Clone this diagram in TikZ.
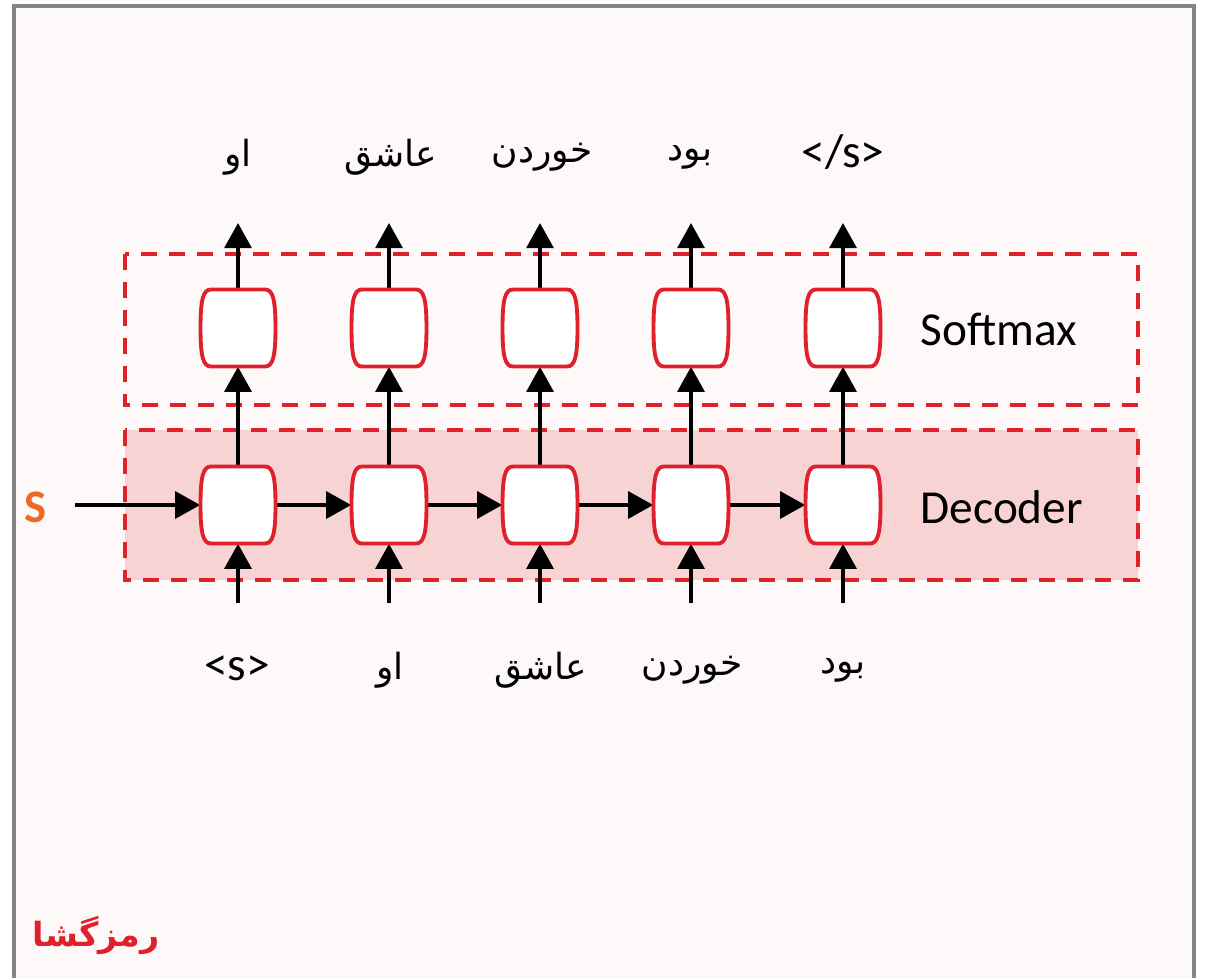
\documentclass[tikz,border=0pt]{standalone}
\usepackage{fontspec}
\setmainfont{Carlito}
\newfontfamily\arabicfont[Script=Arabic]{DejaVu Sans}
\TeXXeTstate=1
\usetikzlibrary{arrows.meta}
\definecolor{bgpink}{HTML}{FDF9F8}
\definecolor{boxpink}{HTML}{F8D3D4}
\definecolor{dred}{HTML}{E0202B}
\definecolor{sorange}{HTML}{EE6A24}
\definecolor{bordergray}{HTML}{858585}
\tikzset{
  cellnode/.style={rectangle, minimum width=56.25pt, minimum height=57.75pt, inner sep=0pt},
  cellline/.style={draw=dred, line width=2.9pt, fill=white},
  dbox/.style={draw=dred, line width=3pt, dash pattern=on 12pt off 9pt},
  arr/.style={line width=3pt, -{Triangle[length=18.75pt, width=20pt]}},
  lat/.style={font=\fontsize{35.5}{40}\selectfont},
  per/.style={font=\arabicfont\fontsize{27}{32}\selectfont},
}
\newcommand{\barrelcell}[1]{%
  \draw[cellline, shift={(#1.center)}] (-27,-38.5) -- (27,-38.5)
    .. controls (35,-38.5) and (37.5,-28) .. (37.5,0)
    .. controls (37.5,28) and (35,38.5) .. (27,38.5) -- (-27,38.5)
    .. controls (-35,38.5) and (-37.5,28) .. (-37.5,0)
    .. controls (-37.5,-28) and (-35,-38.5) .. (-27,-38.5) -- cycle;}
\begin{document}
\begin{tikzpicture}[x=0.75pt, y=-0.75pt]
\useasboundingbox (0,0) rectangle (1205,977);
\fill[white] (0,0) rectangle (1205,977);
\draw[bordergray, line width=3pt, fill=bgpink] (14,6) rectangle (1194,995);
% boxes
\draw[dbox] (125,254) rectangle (1138,405);
\draw[dbox, fill=boxpink] (125,430) rectangle (1138,580);
\node[lat, anchor=west] (softlbl) at (916,329) {Softmax};
\node[lat, anchor=west] (declbl) at (916,507) {Decoder};
% cells
\foreach \i/\x in {1/238, 2/389, 3/540, 4/691, 5/843} {
  \node[cellnode] (c\i) at (\x,328) {};
  \node[cellnode] (d\i) at (\x,505) {};
  \coordinate (t\i) at (\x,223);
  \coordinate (b\i) at (\x,603);
}
% labels
\node[per] (o1) at (238,157) {\beginR او\endR};
\node[per] (o2) at (391,157) {\beginR عاشق\endR};
\node[per] (o3) at (542,157) {\beginR خوردن\endR};
\node[per] (o4) at (690,157) {\beginR بود\endR};
\node[lat] (o5) at (843,152) {</s>};
\node[lat] (i1) at (237,668) {<s>};
\node[per] (i2) at (390,670) {\beginR او\endR};
\node[per] (i3) at (541,670) {\beginR عاشق\endR};
\node[per] (i4) at (692,670) {\beginR خوردن\endR};
\node[per] (i5) at (843,670) {\beginR بود\endR};
\node[lat, text=sorange, font=\fontsize{35}{40}\selectfont\bfseries] (s) at (36,507) {S};
\coordinate (sstart) at (75,505);
\node[text=dred, font=\arabicfont\fontsize{25}{30}\selectfont\bfseries] (dec) at (96,935) {\beginR رمزگشا\endR};
% arrows
\foreach \i in {1,...,5} {
  \draw[arr] (c\i.north) -- (t\i);
  \draw[arr] (d\i.north) -- (c\i.south);
  \draw[arr] (b\i) -- (d\i.south);
}
\draw[arr] (sstart) -- (d1.west);
\foreach \i/\j in {1/2, 2/3, 3/4, 4/5} {
  \draw[arr] (d\i.east) -- (d\j.west);
}
\foreach \i in {1,...,5} {
  \barrelcell{c\i}
  \barrelcell{d\i}
}
\end{tikzpicture}
\end{document}
